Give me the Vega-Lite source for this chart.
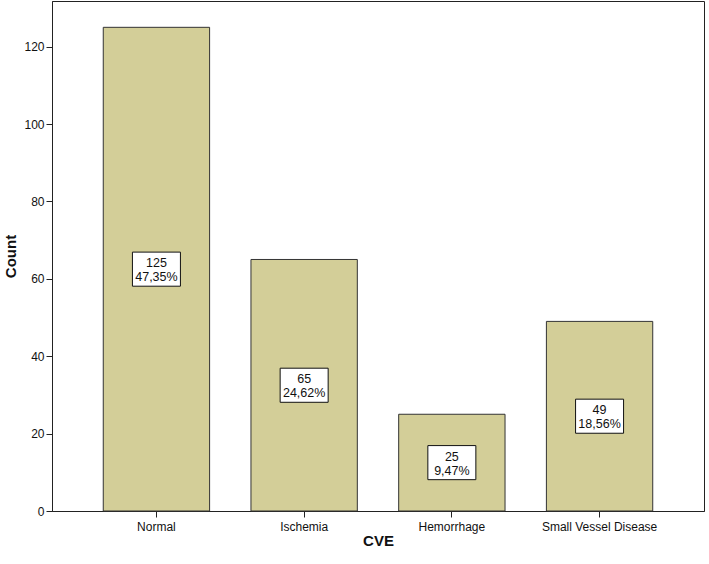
{
  "$schema": "https://vega.github.io/schema/vega-lite/v6.json",
  "autosize": "none",
  "width": 652,
  "height": 510,
  "padding": {"left": 52, "top": 1, "right": 5, "bottom": 53},
  "background": "white",
  "config": {
    "view": {"stroke": "#222222", "strokeWidth": 1},
    "font": "Liberation Sans",
    "axis": {
      "domainColor": "#222222",
      "tickColor": "#222222",
      "labelColor": "#111111",
      "titleColor": "#111111",
      "labelFont": "Liberation Sans",
      "titleFont": "Liberation Sans",
      "labelFontSize": 12,
      "titleFontSize": 15,
      "titleFontWeight": "bold",
      "grid": false
    }
  },
  "data": {
    "values": [
      {"cve": "Normal", "count": 125, "pct": "47,35%"},
      {"cve": "Ischemia", "count": 65, "pct": "24,62%"},
      {"cve": "Hemorrhage", "count": 25, "pct": "9,47%"},
      {"cve": "Small Vessel Disease", "count": 49, "pct": "18,56%"}
    ]
  },
  "transform": [
    {"calculate": "datum.count / 2", "as": "mid"},
    {"calculate": "[toString(datum.count), datum.pct]", "as": "label"}
  ],
  "encoding": {
    "x": {
      "field": "cve",
      "type": "nominal",
      "sort": null,
      "scale": {"paddingInner": 0.28, "paddingOuter": 0.347},
      "axis": {"title": "CVE", "labelAngle": 0, "tickSize": 6, "labelPadding": 4, "titlePadding": 1}
    }
  },
  "layer": [
    {
      "mark": {"type": "bar", "color": "#D3CE98", "stroke": "#333333", "strokeWidth": 1},
      "encoding": {
        "y": {
          "field": "count",
          "type": "quantitative",
          "scale": {"domain": [0, 131.8], "nice": false},
          "axis": {"title": "Count", "values": [0, 20, 40, 60, 80, 100, 120], "tickSize": 6, "labelPadding": 2, "titlePadding": 5}
        }
      }
    },
    {
      "mark": {"type": "point", "shape": "M-1,-0.71L1,-0.71L1,0.71L-1,0.71Z", "size": 2304, "filled": true, "fill": "white", "stroke": "#111111", "strokeWidth": 1, "opacity": 1},
      "encoding": {
        "y": {"field": "mid", "type": "quantitative"}
      }
    },
    {
      "mark": {"type": "text", "fontSize": 12.5, "color": "#111111", "lineHeight": 14, "align": "center", "baseline": "middle", "dy": -6},
      "encoding": {
        "y": {"field": "mid", "type": "quantitative"},
        "text": {"field": "label"}
      }
    }
  ]
}
